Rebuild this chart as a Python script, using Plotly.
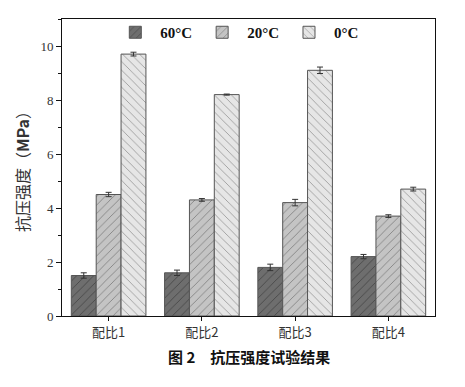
import plotly.graph_objects as go

categories = ["配比1", "配比2", "配比3", "配比4"]
series_names = ["60°C", "20°C", "0°C"]
v60 = [1.5, 1.6, 1.8, 2.2]
v20 = [4.5, 4.3, 4.2, 3.7]
v0 = [9.7, 8.2, 9.1, 4.7]
e60 = [0.1, 0.1, 0.12, 0.08]
e20 = [0.08, 0.05, 0.12, 0.05]
e0 = [0.07, 0.02, 0.12, 0.07]

fills = ["#6e6e6e", "#c4c4c4", "#e6e6e6"]
shapes = ["/", "/", "\\"]
fg = ["#222222", "#444444", "#555555"]

fig = go.Figure()
for name, vals, errs, fc, sh, fgc in zip(series_names, [v60, v20, v0], [e60, e20, e0], fills, shapes, fg):
    fig.add_trace(go.Bar(
        x=categories, y=vals, name="<b>" + name + "</b>",
        error_y=dict(type="data", array=errs, color="#333333", thickness=1, width=3),
        marker=dict(color=fc, line=dict(color="#555555", width=1),
                    pattern=dict(shape=sh, fgcolor=fgc, size=6, solidity=0.15)),
    ))

# page body has an 8px default margin, so the figure is sized/offset to compensate
fig.update_layout(
    width=457, height=379,
    margin=dict(l=54, r=30, t=8, b=71),
    barmode="group", bargap=0.2, bargroupgap=0,
    plot_bgcolor="white", paper_bgcolor="white",
    font=dict(family="Liberation Serif, Noto Sans CJK SC", size=13, color="#222"),
    showlegend=True,
    legend=dict(orientation="h", x=0.47, xanchor="center", y=1.01, yanchor="top",
                font=dict(size=15, family="Liberation Serif", color="#111"), bgcolor="rgba(0,0,0,0)",
                itemwidth=40, traceorder="normal"),
    xaxis=dict(showline=True, linecolor="#111", linewidth=1, mirror=True, automargin=False,
               ticks="outside", ticklen=4, tickcolor="#111",
               tickfont=dict(family="Noto Sans CJK SC", size=13, color="#333")),
    yaxis=dict(range=[0, 11], dtick=2, showline=True, linecolor="#111", linewidth=1, mirror=True,
               automargin=False,
               ticks="outside", ticklen=5, tickcolor="#111", showgrid=False, zeroline=False,
               minor=dict(dtick=1, ticks="outside", ticklen=3, tickcolor="#111"),
               tickfont=dict(family="Liberation Serif", size=13, color="#333"),
               title=dict(text="抗压强度（<b>MPa</b>）", standoff=6,
                          font=dict(family="Noto Sans CJK SC, Liberation Serif", size=16, color="#333"))),
)
fig.add_annotation(text="<b>图 2　抗压强度试验结果</b>", xref="paper", yref="paper",
                   x=0.5, y=-0.095, xanchor="center", yanchor="top", showarrow=False,
                   font=dict(family="Noto Sans CJK SC", size=15, color="#111"))
fig.write_html("out.html")
